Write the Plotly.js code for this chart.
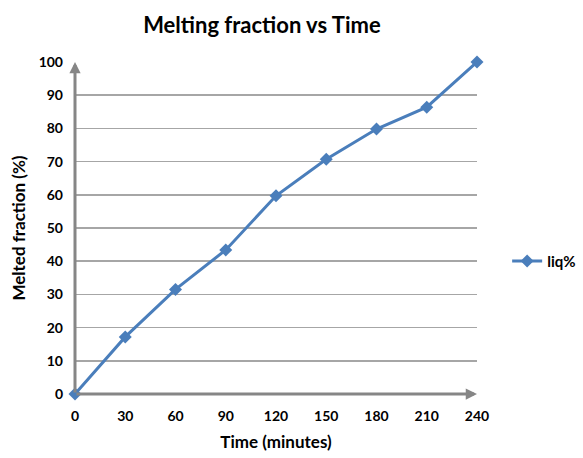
<!DOCTYPE html>
<html>
<head>
<meta charset="utf-8">
<script src="https://cdn.plot.ly/plotly-3.0.1.min.js"></script>
<style>body{margin:0;background:#fff}#chart{width:583px;height:458px}</style>
</head>
<body>
<div id="chart"></div>
<script>
const timeMinutes = [0, 30, 60, 90, 120, 150, 180, 210, 240];
const liqPercent = [0, 17.2, 31.5, 43.4, 59.7, 70.7, 79.8, 86.4, 100];
const xTicks = [0, 30, 60, 90, 120, 150, 180, 210, 240];
const yTicks = [0, 10, 20, 30, 40, 50, 60, 70, 80, 90, 100];
const seriesName = 'liq%';

const FONT = 'Lato, "Open Sans", sans-serif';
const blue = '#4a7ebb';
const axisGray = '#868686';

const trace = {
  x: timeMinutes, y: liqPercent, name: '<b>' + seriesName + '</b>',
  type: 'scatter', mode: 'lines+markers', cliponaxis: false,
  line: {color: blue, width: 3},
  marker: {symbol: 'diamond', size: 10, color: blue}
};

const layout = {
  width: 583, height: 458,
  paper_bgcolor: '#fff', plot_bgcolor: '#fff',
  margin: {l: 75, r: 106, t: 62, b: 64, autoexpand: false},
  font: {family: FONT, color: '#000'},
  title: {text: '<b>Melting fraction vs Time</b>', font: {size: 22, family: FONT, color: '#000'},
          xref: 'paper', x: 0.465, xanchor: 'center', yref: 'container', y: 0.945, yanchor: 'middle'},
  xaxis: {
    range: [0, 240], tickvals: xTicks, ticktext: xTicks.map(v => '<b>' + v + '</b>'),
    showgrid: false, zeroline: false, showline: false, ticks: '',
    ticklabelstandoff: 12,
    tickfont: {size: 14, family: FONT, color: '#000'},
    title: {text: '<b>Time (minutes)</b>', font: {size: 17, family: FONT, color: '#000'}, standoff: 13}
  },
  yaxis: {
    range: [0, 100], tickvals: yTicks, ticktext: yTicks.map(v => '<b>' + v + '</b>'),
    showgrid: true, gridcolor: '#a6a6a6', gridwidth: 1.5,
    zeroline: false, showline: false, ticks: '',
    ticklabelstandoff: 11,
    tickfont: {size: 14, family: FONT, color: '#000'},
    title: {text: '<b>Melted fraction (%)</b>', font: {size: 17, family: FONT, color: '#000'}, standoff: 8}
  },
  showlegend: true,
  legend: {x: 1.075, y: 0.4, xanchor: 'left', yanchor: 'middle',
           font: {size: 15, family: FONT, color: '#000'}, bgcolor: 'rgba(0,0,0,0)'},
  annotations: [
    {xref: 'x', yref: 'y', axref: 'x', ayref: 'y', x: 0, y: 100, ax: 0, ay: 0,
     showarrow: true, arrowhead: 2, arrowsize: 0.75, arrowwidth: 3, arrowcolor: axisGray, text: ''},
    {xref: 'x', yref: 'y', axref: 'x', ayref: 'y', x: 240, y: 0, ax: 0, ay: 0,
     showarrow: true, arrowhead: 2, arrowsize: 0.75, arrowwidth: 3, arrowcolor: axisGray, text: ''}
  ]
};

Plotly.newPlot('chart', [trace], layout, {displayModeBar: false, staticPlot: true});
</script>
</body>
</html>
